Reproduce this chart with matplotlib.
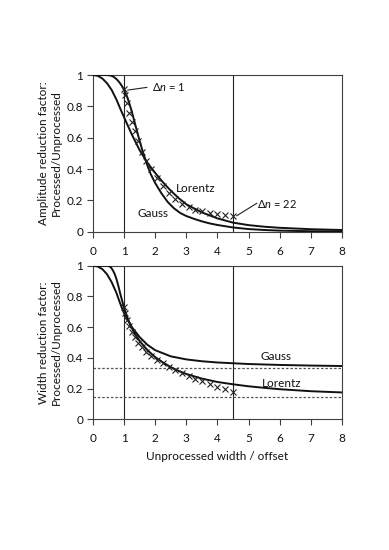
import matplotlib
matplotlib.use("Agg")
import matplotlib.pyplot as plt

plt.rcParams['font.family'] = ['Lato', 'DejaVu Sans']
plt.rcParams['mathtext.fontset'] = 'custom'
plt.rcParams['mathtext.rm'] = 'Lato'
plt.rcParams['mathtext.it'] = 'Lato:italic'

# ---------------- data ----------------
x_ticks = [0, 1, 2, 3, 4, 5, 6, 7, 8]
y_ticks = [0, 0.2, 0.4, 0.6, 0.8, 1.0]
y_tick_labels = ["0", "0.2", "0.4", "0.6", "0.8", "1"]
v_lines = [1.0, 4.5]

# amplitude panel
amp_gauss_x = [0, 0.4, 0.5, 0.58, 0.65, 0.72, 0.79, 0.86, 0.93, 1.0, 1.08, 1.16, 1.25, 1.35,
               1.45, 1.55, 1.65, 1.75, 1.85, 2.0, 2.2, 2.4, 2.6, 2.8, 3.0, 3.25, 3.5, 3.75,
               4.0, 4.5, 5.0, 5.5, 6.0, 7.0, 8.0]
amp_gauss_y = [1, 1, 0.999, 0.996, 0.99, 0.98, 0.967, 0.95, 0.93, 0.905, 0.87, 0.825, 0.765,
               0.69, 0.615, 0.545, 0.48, 0.422, 0.37, 0.31, 0.245, 0.19, 0.15, 0.12, 0.10,
               0.082, 0.066, 0.053, 0.043, 0.027, 0.017, 0.011, 0.007, 0.003, 0.002]
amp_lor_x = [0, 0.15, 0.3, 0.45, 0.6, 0.75, 0.9, 1.0, 1.25, 1.5, 1.75, 2.0, 2.25, 2.5, 2.75,
             3.0, 3.5, 4.0, 4.5, 5.0, 5.5, 6.0, 7.0, 8.0]
amp_lor_y = [1, 0.995, 0.978, 0.948, 0.905, 0.845, 0.775, 0.73, 0.62, 0.52, 0.44, 0.375,
             0.315, 0.262, 0.215, 0.175, 0.123, 0.085, 0.058, 0.042, 0.032, 0.025, 0.016,
             0.011]

# measured points (delta n = 1 ... 22)
pts_x = [1.0, 1.04, 1.09, 1.16, 1.25, 1.35, 1.46, 1.58, 1.72, 1.88, 2.06, 2.25, 2.45, 2.65,
         2.86, 3.07, 3.28, 3.5, 3.75, 4.0, 4.25, 4.5]
amp_pts_y = [0.91, 0.87, 0.82, 0.76, 0.70, 0.64, 0.58, 0.51, 0.45, 0.40, 0.34, 0.29, 0.25,
             0.21, 0.18, 0.16, 0.14, 0.13, 0.12, 0.11, 0.105, 0.10]
wid_pts_y = [0.733, 0.69, 0.646, 0.607, 0.57, 0.534, 0.499, 0.469, 0.44, 0.412, 0.386,
             0.365, 0.342, 0.321, 0.299, 0.282, 0.264, 0.247, 0.228, 0.212, 0.195, 0.18]

# width panel
wid_lor_x = [0, 0.45, 0.52, 0.58, 0.64, 0.7, 0.76, 0.82, 0.88, 0.94, 1.0, 1.1, 1.2, 1.3, 1.4,
             1.5, 1.75, 2.0, 2.25, 2.5, 2.75, 3.0, 3.5, 4.0, 4.5, 5.0, 5.5, 6.0, 7.0, 8.0]
wid_lor_y = [1, 1, 0.997, 0.988, 0.97, 0.945, 0.91, 0.865, 0.815, 0.77, 0.725, 0.665, 0.615,
             0.575, 0.54, 0.51, 0.45, 0.405, 0.37, 0.34, 0.315, 0.295, 0.265, 0.243, 0.228,
             0.215, 0.205, 0.196, 0.183, 0.175]
wid_gauss_x = [0, 0.15, 0.3, 0.45, 0.6, 0.75, 0.9, 1.0, 1.25, 1.5, 1.75, 2.0, 2.5, 3.0, 3.5,
               4.0, 4.5, 5.0, 6.0, 7.0, 8.0]
wid_gauss_y = [1, 0.995, 0.978, 0.945, 0.893, 0.825, 0.74, 0.69, 0.60, 0.535, 0.485, 0.45,
               0.41, 0.39, 0.378, 0.37, 0.365, 0.36, 0.354, 0.35, 0.347]
wid_limits = [0.333, 0.143]

# ---------------- figure ----------------
fig = plt.figure(figsize=(3.89, 5.5), dpi=100)
ax1 = fig.add_axes([0.239, 0.5787, 0.640, 0.2849])
ax2 = fig.add_axes([0.239, 0.2376, 0.640, 0.2793])

spine_c = '#404040'
txt_c = '#111111'
for ax in (ax1, ax2):
    ax.set_xlim(0, 8)
    ax.set_ylim(0, 1)
    ax.set_xticks(x_ticks)
    ax.set_xticklabels([str(t) for t in x_ticks])
    ax.set_yticks(y_ticks)
    ax.set_yticklabels(y_tick_labels)
    ax.tick_params(axis='x', direction='out', length=4, width=0.8, pad=6,
                   labelsize=8.5, colors=spine_c, labelcolor=txt_c)
    ax.tick_params(axis='y', direction='out', length=4, width=0.8, pad=3,
                   labelsize=8.5, colors=spine_c, labelcolor=txt_c)
    for s in ax.spines.values():
        s.set_color(spine_c)
        s.set_linewidth(0.8)
    for xv in v_lines:
        ax.axvline(xv, color='#222222', lw=0.8, zorder=1)

lw = 1.4
# amplitude panel
ax1.plot(amp_gauss_x, amp_gauss_y, color='#111111', lw=lw, zorder=3)
ax1.plot(amp_lor_x, amp_lor_y, color='#111111', lw=lw, zorder=3)
ax1.plot(pts_x, amp_pts_y, linestyle='none', marker='x', ms=5, mew=0.8,
         color='#222222', zorder=4)
ax1.text(2.66, 0.277, "Lorentz", fontsize=8.5, ha='left', va='center', color=txt_c)
ax1.text(1.42, 0.117, "Gauss", fontsize=8.5, ha='left', va='center', color=txt_c)
ax1.plot([1.12, 1.73], [0.904, 0.921], color='#222222', lw=0.8)
ax1.text(1.89, 0.921, r"Δ$\mathit{n}$ = 1", fontsize=8, ha='left', va='center',
         color=txt_c)
ax1.plot([4.62, 5.26], [0.102, 0.181], color='#222222', lw=0.8)
ax1.text(5.28, 0.18, r"Δ$\mathit{n}$ = 22", fontsize=8, ha='left', va='center',
         color=txt_c)
ax1.text(-0.174, 0.5, "Amplitude reduction factor:\nProcessed/Unprocessed",
         transform=ax1.transAxes, rotation=90, ha='center', va='center',
         fontsize=8.5, multialignment='center', color=txt_c, linespacing=1.2)

# width panel
for yv in wid_limits:
    ax2.axhline(yv, color='#555555', lw=0.9, linestyle=(0, (2, 1.5)), zorder=2)
ax2.plot(wid_gauss_x, wid_gauss_y, color='#111111', lw=lw, zorder=3)
ax2.plot(wid_lor_x, wid_lor_y, color='#111111', lw=lw, zorder=3)
ax2.plot(pts_x, wid_pts_y, linestyle='none', marker='x', ms=5, mew=0.8,
         color='#222222', zorder=4)
ax2.text(5.37, 0.412, "Gauss", fontsize=8.5, ha='left', va='center', color=txt_c)
ax2.text(5.42, 0.234, "Lorentz", fontsize=8.5, ha='left', va='center', color=txt_c)
ax2.text(-0.174, 0.5, "Width reduction factor:\nProcessed/Unprocessed",
         transform=ax2.transAxes, rotation=90, ha='center', va='center',
         fontsize=8.5, multialignment='center', color=txt_c, linespacing=1.2)
ax2.set_xlabel("Unprocessed width / offset", fontsize=8.5, labelpad=5, color=txt_c)

fig.savefig("out.png", dpi=100)
